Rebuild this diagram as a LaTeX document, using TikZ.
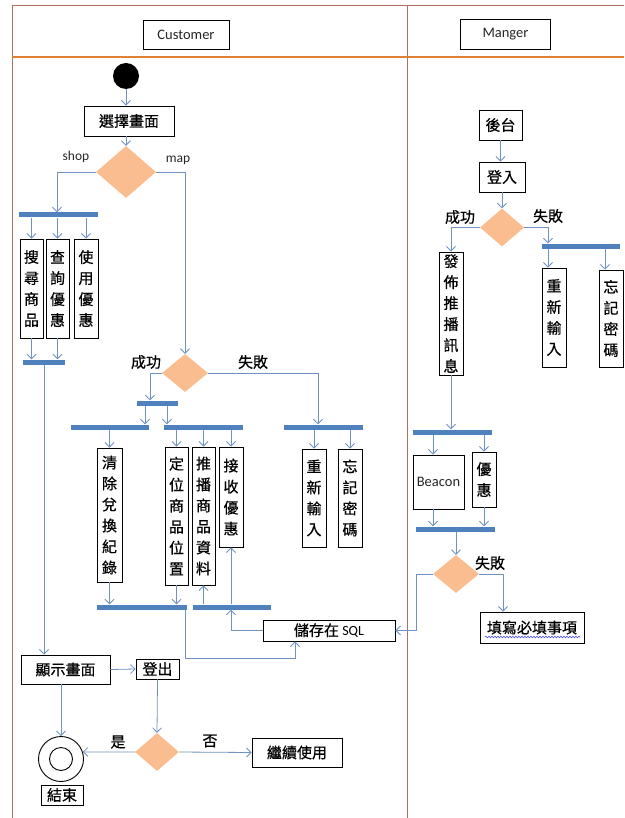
\documentclass[tikz,border=0pt]{standalone}
\usepackage{fontspec}
\setmainfont{Carlito}
\newfontfamily\cjk[FakeBold=0.6]{Noto Sans CJK TC}
\usetikzlibrary{shapes.geometric,arrows.meta,decorations.pathmorphing}
\definecolor{lanec}{RGB}{176,112,96}
\definecolor{hdrc}{RGB}{222,128,56}
\definecolor{conn}{RGB}{112,146,194}
\definecolor{barc}{RGB}{79,129,189}
\definecolor{diac}{RGB}{250,189,143}
\begin{document}
\begin{tikzpicture}[x=1pt,y=-1pt,
  >={Straight Barb[length=4.5pt,width=9pt]},
  box/.style={draw, line width=0.9pt, inner sep=0pt, font=\cjk\fontsize{15}{21}\selectfont, align=center},
  latbox/.style={draw, line width=0.9pt, inner sep=0pt, font=\fontsize{14.5}{16}\selectfont, text=black!85},
  bar/.style={fill=barc, inner sep=0pt, minimum height=5pt},
  dia/.style={diamond, fill=diac, inner sep=0pt},
  arr/.style={draw=conn, line width=0.8pt, ->},
  lbl/.style={font=\cjk\fontsize{15}{17}\selectfont, inner sep=0pt},
  latlbl/.style={font=\fontsize{13.5}{15}\selectfont, inner sep=0pt, text=black!85},
  lane/.style={draw=lanec, line width=1pt}]
\useasboundingbox (0,0) rectangle (624,818);
% lanes
\draw[lane] (12,818) -- (12,6) -- (624,6);
\draw[lane] (407,6) -- (407,818);
\draw[hdrc, line width=2.5pt] (12,57) -- (624,57);
\node[latbox, minimum width=86pt, minimum height=29pt] (cust) at (186,35) {Customer};
\node[latbox, minimum width=90pt, minimum height=30pt] (mgr) at (505.5,34.5) {Manger};

% customer lane
\node[circle, fill=black, minimum size=26pt, inner sep=0pt] (start) at (126,76) {};
\node[box, minimum width=90pt, minimum height=30pt] (sel) at (129,121) {選擇畫面};
\node[dia, minimum width=60pt, minimum height=52pt] (d1) at (126,172) {};
\node[latlbl] at (76,157) {shop};
\node[latlbl] at (178,160) {map};
\node[bar, minimum width=79pt] (b1) at (58.5,215) {};
\node[box, minimum width=23pt, minimum height=99pt] (s1) at (31.5,288.5) {搜\\尋\\商\\品};
\node[box, minimum width=23pt, minimum height=99pt] (s2) at (57.5,288.5) {查\\詢\\優\\惠};
\node[box, minimum width=24pt, minimum height=99pt] (s3) at (86,288.5) {使\\用\\優\\惠};
\node[bar, minimum width=42pt] (b2) at (44,362) {};
\node[box, minimum width=89pt, minimum height=29pt] (show) at (65.5,669.5) {顯示畫面};

\node[dia, minimum width=46pt, minimum height=38pt] (d2) at (185,373) {};
\node[lbl] at (146,362) {成功};
\node[lbl] at (253,362) {失敗};
\node[bar, minimum width=41pt] (b3) at (157.5,403) {};
\node[bar, minimum width=78pt] (b4) at (110,427) {};
\node[bar, minimum width=79pt] (b5) at (203.5,427) {};
\node[box, minimum width=25pt, minimum height=134pt] (c1) at (109.5,515) {清\\除\\兌\\換\\紀\\錄};
\node[box, minimum width=23pt, minimum height=138pt] (c2) at (176.5,516) {定\\位\\商\\品\\位\\置};
\node[box, minimum width=23pt, minimum height=138pt] (c3) at (203.5,516) {推\\播\\商\\品\\資\\料};
\node[box, minimum width=24pt, minimum height=100pt] (c4) at (231,497) {接\\收\\優\\惠};
\node[bar, minimum width=90pt] (b6) at (142,607) {};
\node[bar, minimum width=78pt] (b7) at (232,607) {};
\node[bar, minimum width=79pt] (b11) at (323.5,427) {};
\node[box, minimum width=24pt, minimum height=98pt] (f1) at (314,498) {重\\新\\輸\\入};
\node[box, minimum width=24pt, minimum height=98pt] (f2) at (350,498) {忘\\記\\密\\碼};
\node[box, minimum width=132pt, minimum height=21pt] (sql) at (329,630.5) {儲存在 {\rmfamily\fontsize{14}{15}\selectfont SQL}};
\node[box, minimum width=43pt, minimum height=20pt] (out) at (157.5,669) {登出};
\node[circle, draw, line width=0.9pt, minimum size=45pt, inner sep=0pt] (end) at (61,759) {};
\node[circle, draw, line width=0.9pt, minimum size=23pt, inner sep=0pt] (endin) at (61,759) {};
\node[box, minimum width=42pt, minimum height=20pt] (endl) at (62,795) {結束};
\node[dia, minimum width=44pt, minimum height=38pt] (d4) at (157,752) {};
\node[lbl] at (118,742) {是};
\node[lbl] at (210,741) {否};
\node[box, minimum width=90pt, minimum height=29pt] (cont) at (297,752.5) {繼續使用};

% manager lane
\node[box, minimum width=43pt, minimum height=30pt] (back) at (500.5,125) {後台};
\node[box, minimum width=46pt, minimum height=30pt] (login) at (502,177) {登入};
\node[dia, minimum width=44pt, minimum height=38pt] (d5) at (502,227.5) {};
\node[lbl] at (460,217) {成功};
\node[lbl] at (548,216) {失敗};
\node[box, minimum width=24pt, minimum height=123pt] (pub) at (451,313.5) {發\\佈\\推\\播\\訊\\息};
\node[bar, minimum width=78pt] (b8) at (581,246) {};
\node[box, minimum width=24pt, minimum height=99pt] (m1) at (554,317.5) {重\\新\\輸\\入};
\node[box, minimum width=24pt, minimum height=97pt] (m2) at (611,318.5) {忘\\記\\密\\碼};
\node[bar, minimum width=79pt] (b9) at (452.5,432) {};
\node[latbox, minimum width=51pt, minimum height=54pt] (beac) at (438.5,482) {Beacon};
\node[box, minimum width=24pt, minimum height=55pt] (yh) at (484,479.5) {優\\惠};
\node[bar, minimum width=79pt] (b10) at (455,529) {};
\node[dia, minimum width=46pt, minimum height=38pt] (d3) at (456,574) {};
\node[lbl] at (490,563) {失敗};
\node[box, minimum width=104pt, minimum height=31pt] (fill) at (532,627.5) {填寫必填事項};
\draw[blue!70, line width=0.6pt, decorate, decoration={snake, amplitude=0.8pt, segment length=3pt}] (485,637) -- (580,637);

% connectors customer
\draw[arr] (start.south) -- (start.south |- sel.north);
\draw[arr] (d1.north |- sel.south) -- (d1.north);
\draw[arr] (d1.west) -- (57,0 |- d1.west) -- (57,0 |- b1.north);
\foreach \n in {s1,s2,s3} \draw[arr] (b1.south -| \n.north) -- (\n.north);
\foreach \n in {s1,s2} \draw[arr] (\n.south) -- (\n.south |- b2.north);
\draw[arr] (b2.south) -- (b2.south |- show.north);
\draw[arr] (d1.east) -- (d2.north |- d1.east) -- (d2.north);
\draw[arr] (d2.west) -- (150,0 |- d2.west) -- (150,0 |- b3.north);
\draw[arr] (145,0 |- b3.south) -- (145,0 |- b4.north);
\draw[arr] (167,0 |- b3.south) -- (167,0 |- b5.north);
\draw[arr] (b4.south -| c1.north) -- (c1.north);
\foreach \n in {c2,c3,c4} \draw[arr] (b5.south -| \n.north) -- (\n.north);
\foreach \n in {c1,c2} \draw[arr] (\n.south) -- (\n.south |- b6.north);
\foreach \n in {c3,c4} \draw[arr] (b7.north -| \n.south) -- (\n.south);
\draw[arr] (sql.west) -- (c4.south |- sql.west) -- (c4.south |- b7.south);
\draw[arr] (185,0 |- b6.south) -- (185,658) -- (295,658) -- (295,0 |- sql.south);
\draw[arr] (d2.east) -- (318,0 |- d2.east) -- (318,0 |- b11.north);
\foreach \n in {f1,f2} \draw[arr] (b11.south -| \n.north) -- (\n.north);
\draw[arr] (show.east) -- (out.west);
\draw[arr] (end.north |- show.south) -- (end.north);
\draw[arr] (out.south) -- (d4.north);
\draw[arr] (d4.west) -- (end.18);
\draw[arr] (d4.east) -- (cont.west);

% connectors manager
\draw[arr] (back.south) -- (back.south |- login.north);
\draw[arr] (d5.north |- login.south) -- (d5.north);
\draw[arr] (d5.west) -- (pub.north |- d5.west) -- (pub.north);
\draw[arr] (d5.east) -- (548,0 |- d5.east) -- (548,0 |- b8.north);
\draw[arr] (548,0 |- b8.south) -- (548,0 |- m1.north);
\draw[arr] (605,0 |- b8.south) -- (605,0 |- m2.north);
\draw[arr] (pub.south) -- (pub.south |- b9.north);
\draw[arr] (b9.south -| 433,0) -- (433,0 |- beac.north);
\draw[arr] (b9.south -| yh.north) -- (yh.north);
\draw[arr] (433,0 |- beac.south) -- (433,0 |- b10.north);
\draw[arr] (yh.south) -- (yh.south |- b10.north);
\draw[arr] (b10.south -| d3.north) -- (d3.north);
\draw[arr] (d3.west) -- (416,0 |- d3.west) -- (416,0 |- sql.east) -- (sql.east);
\draw[arr] (d3.east) -- (503,0 |- d3.east) -- (503,0 |- fill.north);
\end{tikzpicture}
\end{document}
